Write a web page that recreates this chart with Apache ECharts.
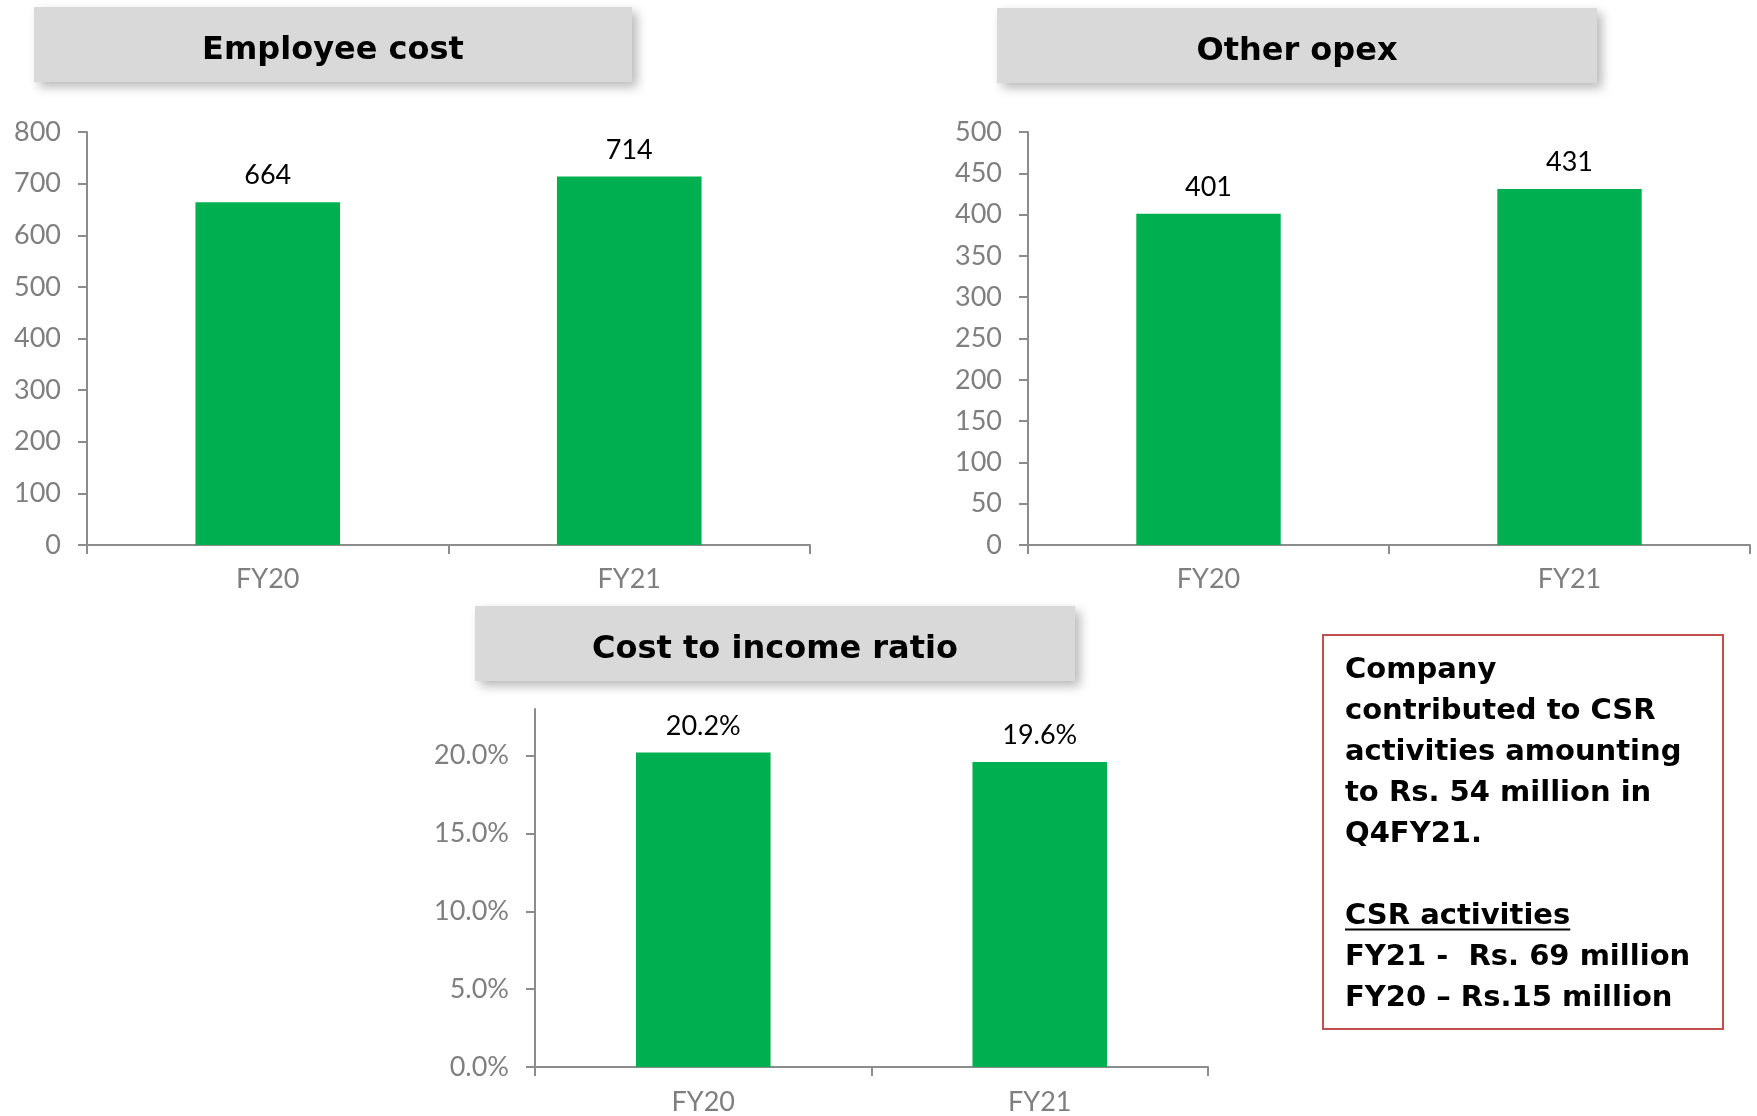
<!DOCTYPE html>
<html>
<head>
<meta charset="utf-8">
<script src="https://cdn.jsdelivr.net/npm/echarts@6/dist/echarts.min.js"></script>
<style>
  html, body { margin: 0; padding: 0; background: #ffffff; }
  #chart { width: 1757px; height: 1116px; }
</style>
</head>
<body>
<div id="chart"></div>
<script>
// ---- data ----
const categories = ['FY20', 'FY21'];
const employeeCost = [664, 714];          // Rs. million
const otherOpex = [401, 431];             // Rs. million
const costToIncome = [20.2, 19.6];        // %
const costToIncomeTicks = [0, 5, 10, 15, 20];
const panelTitles = ['Employee cost', 'Other opex', 'Cost to income ratio'];
const csrLines = [
  'Company',
  'contributed to CSR',
  'activities amounting',
  'to Rs. 54 million in',
  'Q4FY21.',
  '',
  'CSR activities',
  'FY21 -  Rs. 69 million',
  'FY20 \u2013 Rs.15 million'
];

// ---- styling helpers ----
const GREEN = '#00b050';
const AXIS_GREY = '#8c8c8c';
const LABEL_GREY = '#7f7f7f';
const NUM_FONT = 'Lato';
const HEAD_FONT = '"DejaVu Sans"';

const axisLine = { show: true, lineStyle: { color: AXIS_GREY, width: 2 } };
const axisTick = { show: true, length: 9, lineStyle: { color: AXIS_GREY, width: 2 } };
const tickLabel = { color: LABEL_GREY, fontFamily: NUM_FONT, fontSize: 27 };

function catAxis(gridIndex, margin) {
  return {
    type: 'category', gridIndex, data: categories, boundaryGap: true,
    axisLine, axisTick,
    axisLabel: Object.assign({ margin }, tickLabel)
  };
}

function barSeries(idx, values, fmt) {
  return {
    type: 'bar', xAxisIndex: idx, yAxisIndex: idx, data: values,
    barWidth: '40%',
    itemStyle: { color: GREEN },
    label: {
      show: true, position: 'top', distance: 13,
      color: '#000000', fontFamily: NUM_FONT, fontSize: 27,
      formatter: fmt
    }
  };
}

// panel heading boxes (x, y, w, h)
const headBoxes = [
  [34, 7, 598, 75],
  [997, 8, 600, 75],
  [475, 606, 600, 75]
];

const graphics = [];
headBoxes.forEach((b, i) => {
  graphics.push({
    type: 'rect', z: 5,
    shape: { x: b[0], y: b[1], width: b[2], height: b[3] },
    style: {
      fill: '#d9d9d9',
      shadowBlur: 10, shadowOffsetX: 5, shadowOffsetY: 5,
      shadowColor: 'rgba(0,0,0,0.28)'
    }
  });
  graphics.push({
    type: 'text', z: 6,
    x: b[0] + b[2] / 2, y: b[1] + b[3] / 2 + 6,
    style: {
      text: panelTitles[i], fill: '#000000',
      font: 'bold 32px ' + HEAD_FONT,
      align: 'center', verticalAlign: 'middle'
    }
  });
});

// CSR note box
const csrBox = { x: 1323, y: 635, w: 400, h: 394 };
const csrText = { x: 1345, top: 650, lineHeight: 41, font: 'bold 29px ' + HEAD_FONT };
graphics.push({
  type: 'rect', z: 5,
  shape: { x: csrBox.x, y: csrBox.y, width: csrBox.w, height: csrBox.h },
  style: { fill: 'none', stroke: '#c0504d', lineWidth: 2 }
});
graphics.push({
  type: 'text', z: 6,
  x: csrText.x, y: csrText.top,
  style: {
    text: csrLines.join('\n'), fill: '#000000',
    font: csrText.font, lineHeight: csrText.lineHeight,
    align: 'left', verticalAlign: 'top'
  }
});
// underline below the "CSR activities" heading
(function () {
  const ctx = document.createElement('canvas').getContext('2d');
  ctx.font = csrText.font;
  const idx = csrLines.indexOf('CSR activities');
  const w = ctx.measureText(csrLines[idx]).width;
  const y = csrText.top + idx * csrText.lineHeight + csrText.lineHeight / 2 + 13;
  graphics.push({
    type: 'line', z: 6,
    shape: { x1: csrText.x, y1: y, x2: csrText.x + w, y2: y },
    style: { stroke: '#000000', lineWidth: 2 }
  });
})();

const chart = echarts.init(document.getElementById('chart'), null, { renderer: 'canvas' });
chart.setOption({
  backgroundColor: '#ffffff',
  animation: false,
  grid: [
    { left: 87, top: 132, width: 723, height: 413, outerBoundsMode: 'none' },
    { left: 1028, top: 132, width: 722, height: 413, outerBoundsMode: 'none' },
    { left: 535, top: 709, width: 673, height: 358, outerBoundsMode: 'none' }
  ],
  xAxis: [catAxis(0, 21), catAxis(1, 21), catAxis(2, 22)],
  yAxis: [
    {
      type: 'value', gridIndex: 0, min: 0, max: 800, interval: 100,
      axisLine, axisTick, splitLine: { show: false },
      axisLabel: Object.assign({ margin: 26 }, tickLabel)
    },
    {
      type: 'value', gridIndex: 1, min: 0, max: 500, interval: 50,
      axisLine, axisTick, splitLine: { show: false },
      axisLabel: Object.assign({ margin: 26 }, tickLabel)
    },
    {
      type: 'value', gridIndex: 2, min: 0, max: 23, interval: 5,
      axisLine,
      axisTick: Object.assign({ customValues: costToIncomeTicks }, axisTick),
      splitLine: { show: false },
      axisLabel: Object.assign({
        margin: 26, customValues: costToIncomeTicks,
        formatter: v => (costToIncomeTicks.indexOf(v) >= 0 ? v.toFixed(1) + '%' : '')
      }, tickLabel)
    }
  ],
  series: [
    barSeries(0, employeeCost),
    barSeries(1, otherOpex),
    barSeries(2, costToIncome, p => p.value.toFixed(1) + '%')
  ],
  graphic: graphics
});
</script>
</body>
</html>
